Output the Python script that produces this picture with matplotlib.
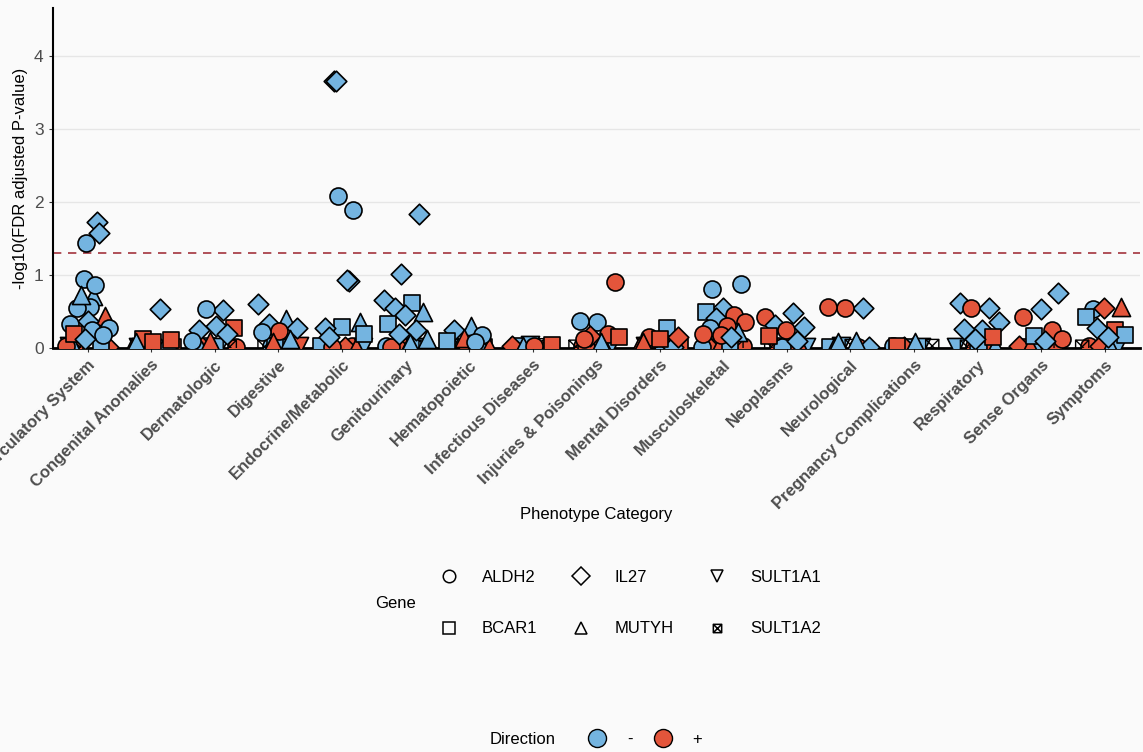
import numpy as np
import matplotlib
matplotlib.use("Agg")
from matplotlib import pyplot as plt
from matplotlib.path import Path
from matplotlib.lines import Line2D

plt.rcParams['font.family'] = ['Liberation Sans', 'DejaVu Sans']

# categories on the x axis
categories = ["Circulatory System", "Congenital Anomalies", "Dermatologic", "Digestive",
              "Endocrine/Metabolic", "Genitourinary", "Hematopoietic", "Infectious Diseases",
              "Injuries & Poisonings", "Mental Disorders", "Musculoskeletal", "Neoplasms",
              "Neurological", "Pregnancy Complications", "Respiratory", "Sense Organs",
              "Symptoms"]
genes = ["ALDH2", "BCAR1", "IL27", "MUTYH", "SULT1A1", "SULT1A2"]

# (gene, direction, -log10 FDR) per category
circulatory = [("MUTYH", "-", 0.71), ("BCAR1", "+", 0.03), ("ALDH2", "+", 0.02), ("ALDH2", "-", 1.44),
               ("SULT1A1", "-", 0.03), ("IL27", "-", 1.73), ("SULT1A2", "-", 0.02), ("IL27", "+", 0.02),
               ("ALDH2", "-", 0.56), ("MUTYH", "-", 0.03), ("BCAR1", "-", 0.02), ("ALDH2", "-", 0.94),
               ("ALDH2", "+", 0.03), ("ALDH2", "-", 0.87), ("ALDH2", "-", 0.55), ("MUTYH", "+", 0.44),
               ("IL27", "-", 0.37), ("ALDH2", "-", 0.33), ("IL27", "-", 1.57), ("MUTYH", "-", 0.73),
               ("ALDH2", "-", 0.28), ("ALDH2", "-", 0.25), ("BCAR1", "+", 0.19), ("ALDH2", "-", 0.18),
               ("IL27", "-", 0.12)]
congenital = [("BCAR1", "+", 0.02), ("ALDH2", "-", 0.03), ("SULT1A1", "+", 0.02), ("IL27", "-", 0.02),
              ("SULT1A2", "-", 0.03), ("MUTYH", "+", 0.02), ("IL27", "-", 0.54), ("BCAR1", "+", 0.13),
              ("BCAR1", "+", 0.11), ("BCAR1", "+", 0.09), ("MUTYH", "-", 0.08)]
dermatologic = [("BCAR1", "-", 0.03), ("ALDH2", "+", 0.02), ("SULT1A1", "-", 0.02), ("IL27", "+", 0.03),
                ("SULT1A2", "-", 0.02), ("MUTYH", "-", 0.03), ("ALDH2", "-", 0.02),
                ("IL27", "-", 0.52), ("ALDH2", "-", 0.54), ("BCAR1", "+", 0.28), ("IL27", "-", 0.31),
                ("IL27", "-", 0.25), ("IL27", "-", 0.19), ("MUTYH", "+", 0.1), ("ALDH2", "-", 0.1)]
digestive = [("BCAR1", "+", 0.02), ("ALDH2", "-", 0.03), ("SULT1A1", "+", 0.03), ("IL27", "-", 0.02),
             ("SULT1A2", "-", 0.02), ("MUTYH", "+", 0.03), ("BCAR1", "-", 0.03),
             ("IL27", "-", 0.61), ("MUTYH", "-", 0.4), ("IL27", "-", 0.33), ("IL27", "-", 0.28),
             ("ALDH2", "+", 0.24), ("ALDH2", "-", 0.22), ("MUTYH", "-", 0.13), ("MUTYH", "+", 0.08)]
endocrine = [("BCAR1", "+", 0.02), ("ALDH2", "+", 0.03), ("IL27", "-", 3.66), ("SULT1A1", "-", 0.02),
             ("IL27", "+", 0.02), ("SULT1A2", "-", 0.03), ("MUTYH", "+", 0.02), ("ALDH2", "-", 2.08),
             ("BCAR1", "-", 0.03), ("IL27", "-", 0.92), ("ALDH2", "+", 0.02), ("MUTYH", "-", 0.36),
             ("BCAR1", "-", 0.29), ("IL27", "-", 0.27), ("ALDH2", "-", 1.89), ("IL27", "-", 3.65),
             ("BCAR1", "-", 0.2), ("IL27", "-", 0.93), ("IL27", "-", 0.15)]
genitourinary = [("BCAR1", "+", 0.02), ("ALDH2", "-", 0.03), ("SULT1A1", "-", 0.02), ("IL27", "+", 0.03),
                 ("SULT1A2", "-", 0.02), ("MUTYH", "-", 0.03), ("ALDH2", "+", 0.02),
                 ("IL27", "-", 1.83), ("IL27", "-", 1.02), ("IL27", "-", 0.66), ("BCAR1", "-", 0.62),
                 ("IL27", "-", 0.55), ("MUTYH", "-", 0.5), ("IL27", "-", 0.45), ("BCAR1", "-", 0.33),
                 ("IL27", "-", 0.25), ("IL27", "-", 0.2), ("MUTYH", "-", 0.12), ("MUTYH", "-", 0.07)]
hematopoietic = [("BCAR1", "+", 0.02), ("ALDH2", "+", 0.03), ("SULT1A1", "-", 0.02), ("IL27", "-", 0.02),
                 ("SULT1A2", "-", 0.03), ("MUTYH", "+", 0.02),
                 ("MUTYH", "-", 0.31), ("IL27", "-", 0.25), ("ALDH2", "-", 0.18), ("MUTYH", "+", 0.14),
                 ("BCAR1", "-", 0.1), ("ALDH2", "-", 0.09)]
infectious = [("BCAR1", "-", 0.03), ("ALDH2", "+", 0.02), ("SULT1A1", "-", 0.04), ("IL27", "+", 0.03),
              ("SULT1A2", "-", 0.04), ("MUTYH", "-", 0.03), ("BCAR1", "+", 0.04), ("ALDH2", "+", 0.03)]
injuries = [("BCAR1", "+", 0.02), ("ALDH2", "+", 0.03), ("SULT1A1", "-", 0.02), ("IL27", "+", 0.03),
            ("SULT1A2", "-", 0.02), ("MUTYH", "-", 0.03), ("ALDH2", "+", 0.02),
            ("ALDH2", "+", 0.91), ("ALDH2", "-", 0.36), ("ALDH2", "-", 0.37), ("ALDH2", "+", 0.2),
            ("IL27", "+", 0.17), ("BCAR1", "+", 0.15), ("MUTYH", "-", 0.08), ("ALDH2", "+", 0.12)]
mental = [("BCAR1", "+", 0.02), ("ALDH2", "-", 0.03), ("SULT1A1", "+", 0.03), ("IL27", "-", 0.02),
          ("SULT1A2", "-", 0.02), ("MUTYH", "+", 0.03),
          ("BCAR1", "-", 0.27), ("ALDH2", "+", 0.15), ("IL27", "+", 0.15), ("BCAR1", "+", 0.12),
          ("MUTYH", "+", 0.09)]
musculoskeletal = [("BCAR1", "+", 0.02), ("ALDH2", "+", 0.03), ("SULT1A1", "-", 0.02), ("IL27", "+", 0.03),
                   ("SULT1A2", "-", 0.02), ("MUTYH", "+", 0.03), ("ALDH2", "-", 0.02), ("BCAR1", "-", 0.03),
                   ("ALDH2", "-", 0.81), ("ALDH2", "-", 0.88), ("IL27", "-", 0.55), ("BCAR1", "-", 0.49),
                   ("ALDH2", "+", 0.46), ("IL27", "-", 0.41), ("ALDH2", "+", 0.36), ("ALDH2", "+", 0.31),
                   ("ALDH2", "-", 0.27), ("MUTYH", "-", 0.22), ("ALDH2", "+", 0.18), ("ALDH2", "+", 0.2),
                   ("IL27", "-", 0.15)]
neoplasms = [("BCAR1", "+", 0.02), ("ALDH2", "+", 0.03), ("SULT1A1", "-", 0.02), ("IL27", "+", 0.03),
             ("SULT1A2", "-", 0.02), ("MUTYH", "+", 0.03), ("ALDH2", "-", 0.02),
             ("ALDH2", "+", 0.43), ("IL27", "-", 0.48), ("IL27", "-", 0.32), ("IL27", "-", 0.29),
             ("ALDH2", "+", 0.25), ("BCAR1", "+", 0.17), ("IL27", "-", 0.1)]
neurological = [("BCAR1", "-", 0.02), ("ALDH2", "+", 0.02), ("SULT1A1", "-", 0.03), ("IL27", "-", 0.02),
                ("SULT1A2", "-", 0.03), ("MUTYH", "-", 0.02),
                ("IL27", "-", 0.55), ("ALDH2", "+", 0.55), ("ALDH2", "+", 0.56), ("MUTYH", "-", 0.1),
                ("MUTYH", "-", 0.08)]
pregnancy = [("BCAR1", "-", 0.02), ("ALDH2", "-", 0.03), ("SULT1A1", "-", 0.02), ("IL27", "+", 0.02),
             ("SULT1A2", "-", 0.03), ("MUTYH", "-", 0.09), ("BCAR1", "+", 0.03)]
respiratory = [("BCAR1", "+", 0.02), ("ALDH2", "+", 0.03), ("SULT1A1", "-", 0.02), ("IL27", "+", 0.03),
               ("SULT1A2", "-", 0.02), ("MUTYH", "-", 0.03), ("ALDH2", "-", 0.02),
               ("IL27", "-", 0.62), ("IL27", "-", 0.55), ("ALDH2", "+", 0.55), ("IL27", "-", 0.36),
               ("IL27", "-", 0.25), ("IL27", "-", 0.26), ("BCAR1", "+", 0.15), ("IL27", "-", 0.12)]
sense = [("BCAR1", "+", 0.02), ("ALDH2", "+", 0.03), ("SULT1A1", "-", 0.02), ("IL27", "+", 0.03),
         ("SULT1A2", "-", 0.02), ("MUTYH", "+", 0.03),
         ("IL27", "-", 0.76), ("IL27", "-", 0.53), ("ALDH2", "+", 0.42), ("ALDH2", "+", 0.25),
         ("BCAR1", "-", 0.17), ("ALDH2", "+", 0.12), ("IL27", "-", 0.1)]
symptoms = [("BCAR1", "+", 0.02), ("ALDH2", "+", 0.03), ("SULT1A1", "-", 0.02), ("IL27", "+", 0.03),
            ("SULT1A2", "-", 0.02), ("MUTYH", "-", 0.03),
            ("ALDH2", "-", 0.54), ("MUTYH", "+", 0.57), ("IL27", "+", 0.55), ("BCAR1", "-", 0.43),
            ("BCAR1", "+", 0.25), ("IL27", "-", 0.27), ("BCAR1", "-", 0.18), ("IL27", "-", 0.15)]

groups = [circulatory, congenital, dermatologic, digestive, endocrine, genitourinary,
          hematopoietic, infectious, injuries, mental, musculoskeletal, neoplasms,
          neurological, pregnancy, respiratory, sense, symptoms]

threshold = -np.log10(0.05)

##################################################
# Styles
##################################################
fill = {"-": "#74B4E0", "+": "#E3553B"}
boxx = Path([(-1, -1), (1, -1), (1, 1), (-1, 1), (-1, -1), (-1, -1), (1, 1), (-1, 1), (1, -1)],
            [Path.MOVETO, Path.LINETO, Path.LINETO, Path.LINETO, Path.CLOSEPOLY,
             Path.MOVETO, Path.LINETO, Path.MOVETO, Path.LINETO])
marker = {"ALDH2": "o", "BCAR1": "s", "IL27": "D", "MUTYH": "^", "SULT1A1": "v", "SULT1A2": boxx}
msize = {"ALDH2": 150, "BCAR1": 130, "IL27": 110, "MUTYH": 170, "SULT1A1": 170, "SULT1A2": 90}

bg = "#FAFAFA"
fig = plt.figure(figsize=(11.43, 7.52), dpi=100, facecolor=bg)
ax = fig.add_axes([0.046, 0.537, 0.951, 0.452], facecolor=bg)

# jitter (deterministic) along x, like geom_jitter
for c, pts in enumerate(groups):
    for i, (g, d, v) in enumerate(pts):
        off = 0.36 * (2 * (((i + 1) * 0.6180339 + c * 0.37) % 1.0) - 1)
        if g == "SULT1A2":
            ax.scatter(c + off, v, marker=marker[g], s=msize[g], facecolor="none",
                       edgecolor="black", linewidth=1.0, zorder=3)
        else:
            ax.scatter(c + off, v, marker=marker[g], s=msize[g], facecolor=fill[d],
                       edgecolor="black", linewidth=1.2, zorder=3)

ax.axhline(threshold, color="#A3333D", linestyle=(0, (5, 4)), linewidth=1.2, zorder=2)

ax.set_xlim(-0.55, len(categories) - 0.45)
ax.set_ylim(0, 4.65)
ax.set_yticks([0, 1, 2, 3, 4])
ax.set_yticklabels(["0", "1", "2", "3", "4"])
ax.grid(axis="y", color="#E6E6E6", linewidth=1.0, zorder=0)
ax.set_axisbelow(True)
ax.set_xticks(range(len(categories)))
ax.set_xticklabels(categories, rotation=45, ha="right", va="top", rotation_mode="anchor",
                   fontsize=12, fontweight="bold", color="#4D4D4D")
ax.tick_params(axis="y", labelsize=12.5, labelcolor="#4D4D4D", length=3, color="#333333")
ax.tick_params(axis="x", length=3, color="#333333")
for s in ["top", "right"]:
    ax.spines[s].set_visible(False)
ax.spines["left"].set_linewidth(1.5)
ax.spines["bottom"].set_linewidth(2.0)

ax.set_ylabel("-log10(FDR adjusted P-value)", fontsize=12, labelpad=4)
ax.set_xlabel("Phenotype Category", fontsize=12, va="center")
ax.xaxis.set_label_coords(0.5, -0.49)

##################################################
# Legends
##################################################
gene_handles = [Line2D([], [], linestyle="none", marker=marker[g], markersize=9 if g != "SULT1A2" else 6,
                       markerfacecolor="none", markeredgecolor="black", markeredgewidth=1.1)
                for g in genes]
leg1 = fig.legend(gene_handles, genes, ncol=3, loc="center", bbox_to_anchor=(0.551, 0.198),
                  frameon=False, fontsize=12, handletextpad=1.4, columnspacing=2.0,
                  labelspacing=2.2, handlelength=1.2)
fig.text(0.346, 0.197, "Gene", fontsize=12, ha="center", va="center")

dir_handles = [Line2D([], [], linestyle="none", marker="o", markersize=13, markerfacecolor=fill[d],
                      markeredgecolor="black", markeredgewidth=1.0) for d in ["-", "+"]]
fig.legend(dir_handles, ["-", "+"], ncol=2, loc="center", bbox_to_anchor=(0.564, 0.017),
           frameon=False, fontsize=12, handletextpad=1.2, columnspacing=1.2, handlelength=1.2)
fig.text(0.457, 0.016, "Direction", fontsize=12, ha="center", va="center")

fig.savefig("out.png", dpi=100, facecolor=bg)
